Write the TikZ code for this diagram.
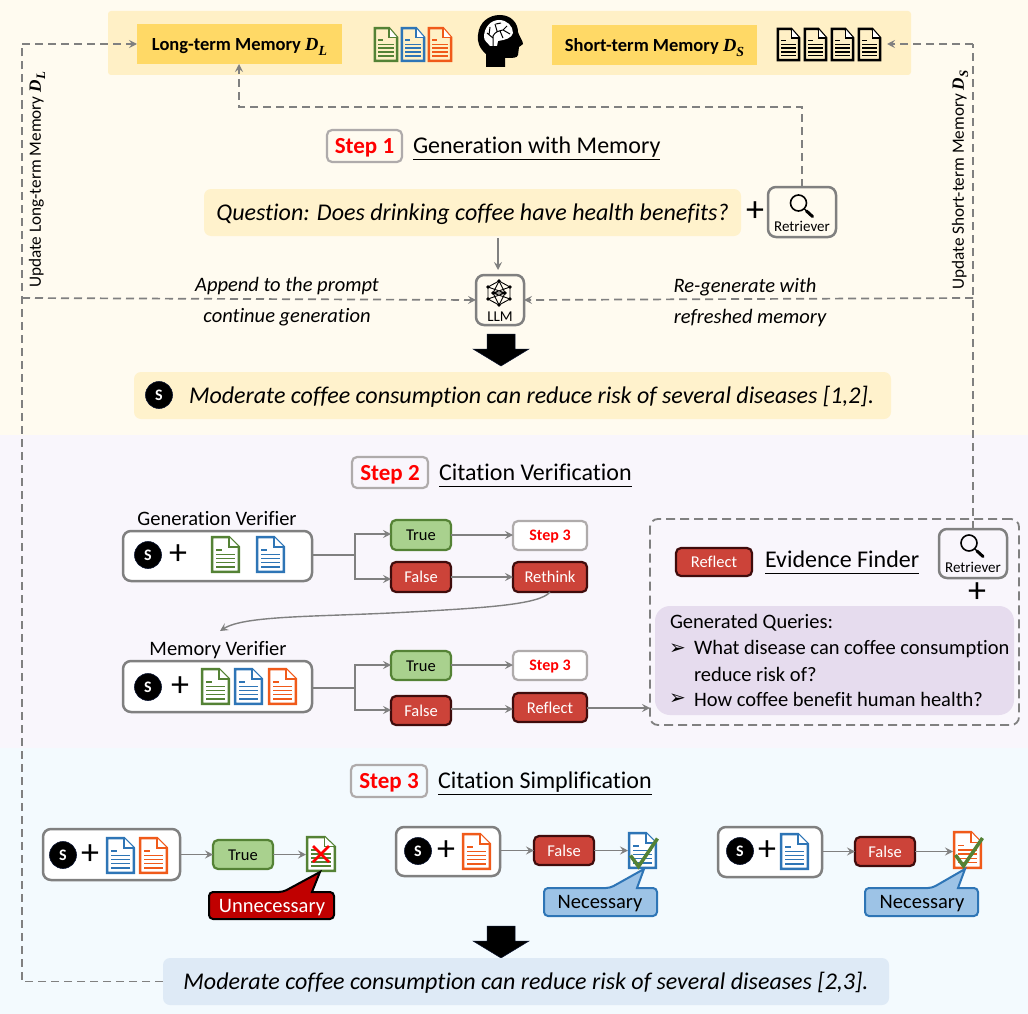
\documentclass[tikz,border=0pt]{standalone}
\usepackage{fontspec}
\setmainfont{Carlito}[Ligatures={NoCommon}]
\newfontfamily\mfam{Liberation Serif}
\newfontfamily\symf{DejaVu Sans}
\usetikzlibrary{arrows.meta,calc}
\definecolor{bgA}{HTML}{FFFBF0}
\definecolor{bgB}{HTML}{F9F6FC}
\definecolor{bgC}{HTML}{F3FAFE}
\definecolor{band}{HTML}{FFF0C6}
\definecolor{gold}{HTML}{FFD966}
\definecolor{pale}{HTML}{FFF2CC}
\definecolor{lav}{HTML}{E6DCEE}
\definecolor{ice}{HTML}{DEEAF6}
\definecolor{gr}{HTML}{808080}
\definecolor{dgreen}{HTML}{548235}
\definecolor{lgreen}{HTML}{A9D18E}
\definecolor{dblue}{HTML}{2E75B6}
\definecolor{lblue}{HTML}{9DC3E6}
\definecolor{dorange}{HTML}{F05A1A}
\definecolor{fred}{HTML}{CC4339}
\definecolor{dred}{HTML}{3F0C0C}
\definecolor{stepgr}{HTML}{AFABAB}
\definecolor{navy}{HTML}{0A1430}
\definecolor{cred}{HTML}{C00000}
\tikzset{
  base/.style={inner sep=0pt,outer sep=0pt,text=black},
  conn/.style={draw=gr,line width=1.7pt,-{Stealth[length=8pt,width=8pt,inset=3pt]}},
  plainconn/.style={draw=gr,line width=1.7pt},
  dashconn/.style={draw=gr,line width=1.7pt,dash pattern=on 8pt off 5pt,-{Stealth[length=8pt,width=8pt,inset=3pt]}},
  dashplain/.style={draw=gr,line width=1.7pt,dash pattern=on 8pt off 5pt},
  txt/.style={base,yshift=-2pt,font=\fontsize{#1}{#1}\selectfont},
  itx/.style={base,yshift=-2pt,font=\fontsize{#1}{#1}\selectfont\itshape},
  rtx/.style={base,rotate=90,font=\fontsize{#1}{#1}\selectfont},
  stepbox/.style={base,draw=stepgr,line width=2.2pt,rounded corners=5pt,text=red,text height=15pt,text depth=0pt,font=\fontsize{23}{23}\selectfont\bfseries},
  smallstep/.style={base,draw=stepgr,line width=2.2pt,rounded corners=5pt,fill=white,text=red,text height=10.5pt,text depth=0pt,font=\fontsize{16}{16}\selectfont\bfseries},
  truebox/.style={base,draw=dgreen,line width=2.2pt,rounded corners=5pt,fill=lgreen,text height=11pt,text depth=0pt,font=\fontsize{16.5}{16.5}\selectfont},
  falsebox/.style={base,draw=dred,line width=2.2pt,rounded corners=5pt,fill=fred,text=white,text height=11pt,text depth=0pt,font=\fontsize{16.5}{16.5}\selectfont},
  graybox/.style={base,draw=gr,line width=2.5pt,rounded corners=8pt,fill=white},
  openbox/.style={base,draw=gr,line width=2.5pt,rounded corners=8pt},
  headtext/.style={base,yshift=-3pt,font=\fontsize{24}{24}\selectfont,text height=15pt,text depth=6pt},
  sball/.style={base,circle,fill=black,draw=navy,line width=.6pt,minimum size=27pt,text=white,font=\fontsize{16}{16}\selectfont\bfseries},
  pluss/.style={base,font=\fontsize{36}{36}\selectfont},
  memhead/.style={base,fill=gold,text height=13pt,text depth=0pt,font=\fontsize{18.5}{18.5}\selectfont\bfseries},
  sentbox/.style={base,rounded corners=7pt,text height=15pt,text depth=0pt,font=\fontsize{24}{24}\selectfont\itshape},
}
\newcommand\dmath[2]{{\mfam\bfseries\itshape #1\raisebox{-.25em}{\scalebox{.75}{#2}}}}
\newcommand\bx[7]{%
  \pgfmathsetmacro\cxx{(#2+#4)/2}\pgfmathsetmacro\cyy{(#3+#5)/2}%
  \pgfmathsetmacro\www{#4-#2}\pgfmathsetmacro\hhh{#5-#3}%
  \node[#6,minimum width=\www pt,minimum height=\hhh pt] (#1) at (\cxx,\cyy) {#7};}
\newcommand\docicon[7]{%
  \pgfmathsetmacro\cxx{(#2+#4)/2}\pgfmathsetmacro\cyy{(#3+#5)/2}%
  \pgfmathsetmacro\www{#4-#2}\pgfmathsetmacro\hhh{#5-#3}%
  \node[inner sep=0pt,outer sep=0pt,minimum width=\www pt,minimum height=\hhh pt] (#1) at (\cxx,\cyy) {};
  \begin{scope}[shift={(#2,#3)},x=\www pt,y=-\hhh pt]
    \draw[#6,line width=2.5pt,fill=#7,line join=miter] (.04,.03)--(.62,.03)--(.96,.30)--(.96,.97)--(.04,.97)--cycle;
    \draw[#6,line width=1.3pt,fill=white] (.62,.03)--(.62,.30)--(.96,.30);
    \draw[#6,line width=1.7pt] (.18,.38)--(.38,.38) (.18,.50)--(.84,.50) (.18,.61)--(.84,.61) (.18,.72)--(.84,.72) (.18,.83)--(.84,.83);
  \end{scope}}
\newcommand\lens[2]{%
  \begin{scope}[shift={(#1,#2)}]
    \draw[black,line width=1.6pt] (0,0) circle (8pt);
    \draw[black,line width=1.2pt] (5.6,5.6)--(8,8);
    \draw[black,line width=3pt,line cap=round] (8,8)--(14,13.5);
  \end{scope}}
\begin{document}
\begin{tikzpicture}[x=1pt,y=-1pt]
\useasboundingbox (0,0) rectangle (1028,1014);
% section backgrounds
\fill[bgA] (0,0) rectangle (1028,435);
\fill[bgB] (0,435) rectangle (1028,748);
\fill[bgC] (0,748) rectangle (1028,1014);
% memory band
\fill[band,rounded corners=3pt] (108,11) rectangle (911,75);
\bx{ltm}{137}{24}{342}{64}{memhead}{Long-term Memory \dmath{D}{L}}
\bx{stm}{552}{25}{757}{65}{memhead}{Short-term Memory \dmath{D}{S}}
\docicon{da}{374}{27}{398}{62}{dgreen}{band}
\docicon{db}{401}{27}{425}{62}{dblue}{band}
\docicon{dc}{428}{27}{452}{62}{dorange}{band}
\docicon{ka}{777}{28}{800}{61}{black}{band}
\docicon{kb}{804}{28}{827}{61}{black}{band}
\docicon{kc}{831}{28}{854}{61}{black}{band}
\docicon{kd}{858}{28}{881}{61}{black}{band}
\coordinate (stmin) at (887,44);
% brain head
\fill[black] (486,67) -- (486,54) .. controls (479,48) and (477,41) .. (478,35)
  .. controls (479,22) and (489,15) .. (500,15) .. controls (511,15) and (518,23) .. (518,32)
  .. controls (519,36) and (523,41) .. (523,44) .. controls (522,46) and (519,46) .. (519,47)
  -- (518,55) .. controls (517,58) and (514,58) .. (505,58) -- (505,67) -- cycle;
\fill[white] (484,37) .. controls (484,27) and (491,20) .. (499,20) .. controls (507,20) and (513,26) .. (513,33)
  .. controls (512,38) and (505,40) .. (498,41) -- (497,46) -- (490,46) .. controls (488,43) and (484,41) .. (484,37) -- cycle;
\draw[black,line width=1pt] (493,46) -- (493,36) .. controls (495,32) and (498,31) .. (503,30) -- (507,26)
  (503,30) -- (510,34) (493,38) -- (487,33) (489,35) -- (490,27) (497,31) -- (495,24) (500,31) -- (503,38) (496,24)--(501,23);
% step 1
\bx{s1}{327}{130}{402}{162}{stepbox}{Step 1}
\node[headtext,anchor=west] (h1) at (413,146) {Generation with Memory};
\draw[black,line width=.8pt] (h1.south west)--(h1.south east);
\bx{q}{204}{189}{741}{236}{sentbox,fill=pale}{Question: Does drinking coffee have health benefits?}
\node[pluss] (qp) at (755,212) {+};
\bx{r1}{768}{187}{836}{237}{openbox}{}
\node[txt=15] (r1t) at (802,224) {Retriever};
\lens{798.5}{203}
\bx{llm}{476}{275}{524}{325}{openbox}{}
\node[txt=15] (llmt) at (500,315) {LLM};
\begin{scope}[shift={(499,293)},line width=.9pt]
  \foreach \p/\q in {0/-12,-11/-6,11/-6,-11/6,11/6,0/12,-6/0,6/0}{\fill[black] (\p,\q) circle (1.9pt);}
  \draw (0,-12)--(-11,-6)--(-11,6)--(0,12)--(11,6)--(11,-6)--cycle;
  \draw (0,-12)--(-6,0)--(0,12)--(6,0)--cycle (-11,-6)--(6,0)--(-11,6) (11,-6)--(-6,0)--(11,6) (-6,0)--(6,0);
\end{scope}
\coordinate (qb) at (498,238);
\coordinate (qe) at (498,270);
\draw[conn,line width=1.4pt] (qb) -- (qe);
% connectors
\coordinate (lc) at (22,298);
\coordinate (rc) at (973,298);
\coordinate (mid) at (802,107);
\coordinate (midl) at (239,107);
\draw[dashconn] (r1.north) -- (mid) -- (midl) -- (ltm.south -| midl);
\node[itx=20.5] (ap1) at (287,284) {Append to the prompt};
\node[itx=20.5] (ap2) at (287,315) {continue generation};
\node[itx=20.5] (re1) at (745,285) {Re-generate with};
\node[itx=20.5] (re2) at (750,316) {refreshed memory};
\node[rtx=17.2] (ul) at (37,180) {Update Long-term Memory \dmath{D}{L}};
\node[rtx=17.2] (us) at (960,180) {Update Short-term Memory \dmath{D}{S}};
% block arrow 1
\fill[black,draw=navy,line width=.5pt] (487,334)--(515,334)--(515,349)--(529,349)--(501,366)--(473,349)--(487,349)--cycle;
\bx{out1}{134}{372}{891}{419}{base,fill=pale,rounded corners=7pt}{}
\node[sball] (s0) at (159,395) {S};
\node[itx=24,anchor=west] (out1t) at (189,395) {Moderate coffee consumption can reduce risk of several diseases [1,2].};
% step 2
\bx{s2}{352}{457}{428}{488}{stepbox}{Step 2}
\node[headtext,anchor=west] (h2) at (439,473) {Citation Verification};
\draw[black,line width=.8pt] (h2.south west)--(h2.south east);
\node[txt=20.5] (gvl) at (217,517) {Generation Verifier};
\bx{gv}{123}{531}{312}{581}{graybox}{}
\node[sball] (s1b) at (148,555) {S};
\node[pluss] (p1) at (178,555) {+};
\docicon{g1}{211}{536}{240}{573}{dgreen}{white}
\docicon{g2}{256}{536}{285}{573}{dblue}{white}
\bx{t1}{391}{520}{451}{550}{truebox}{True}
\bx{f1}{391}{562}{451}{592}{falsebox}{False}
\bx{st1}{513}{521}{587}{550}{smallstep}{Step 3}
\bx{re}{513}{562}{587}{592}{falsebox}{Rethink}
\coordinate (j1) at (355,555);
\draw[plainconn] (gv.east |- j1) -- (j1);
\draw[conn] (j1) |- (t1.west |- 0,534);
\draw[conn] (j1) |- (f1.west |- 0,579);
\draw[conn] (t1.east |- 0,535) -- (st1.west |- 0,535);
\draw[conn] (f1.east |- 0,577) -- (re.west |- 0,577);
\coordinate (mvtop) at (220,631);
\coordinate (rethm) at (410,612);
\draw[conn,line width=1.4pt] (re.south) .. controls (540,605) and (480,608) .. (rethm) .. controls (320,617) and (245,615) .. (mvtop);
\node[txt=20.5] (mvl) at (218,648) {Memory Verifier};
\bx{mv}{123}{661}{312}{712}{graybox}{}
\node[sball] (s2b) at (148,687) {S};
\node[pluss] (p2) at (180,687) {+};
\docicon{m1}{201}{668}{230}{705}{dgreen}{white}
\docicon{m2}{234}{668}{263}{705}{dblue}{white}
\docicon{m3}{268}{668}{297}{705}{dorange}{white}
\bx{t2}{391}{651}{451}{680}{truebox}{True}
\bx{f2}{391}{696}{451}{725}{falsebox}{False}
\bx{st2}{513}{651}{587}{680}{smallstep}{Step 3}
\bx{rf}{513}{693}{587}{722}{falsebox}{Reflect}
\coordinate (j2) at (355,688);
\draw[plainconn] (mv.east |- j2) -- (j2);
\draw[conn] (j2) |- (t2.west |- 0,665);
\draw[conn] (j2) |- (f2.west |- 0,710);
\draw[conn] (t2.east |- 0,665) -- (st2.west |- 0,665);
\draw[conn] (f2.east |- 0,709) -- (rf.west |- 0,709);
% evidence finder
\bx{ev}{650}{519}{1019}{725}{base,draw=gr,line width=1.8pt,dash pattern=on 9pt off 5pt,rounded corners=8pt}{}
\draw[conn] (rf.east |- 0,708) -- (ev.west |- 0,708);
\bx{rf2}{676}{548}{752}{576}{falsebox}{Reflect}
\node[headtext,anchor=west] (h4) at (765,560) {Evidence Finder};
\draw[black,line width=.8pt] (h4.south west)--(h4.south east);
\bx{r2}{939}{529}{1007}{578}{openbox}{}
\node[txt=15] (r2t) at (973,565) {Retriever};
\lens{969}{543}
\node[pluss] (p3) at (977,593) {+};
\bx{gq}{655}{606}{1014}{715}{base,fill=lav,rounded corners=15pt}{}
\node[txt=20.5,anchor=west] (gq0) at (670,621) {Generated Queries:};
\node[txt=20,anchor=west] (gb1) at (669,647) {\symf ➢};
\node[txt=20.5,anchor=west] (gq1) at (694,647) {What disease can coffee consumption};
\node[txt=20.5,anchor=west] (gq2) at (694,672) {reduce risk of?};
\node[txt=20,anchor=west] (gb2) at (669,697) {\symf ➢};
\node[txt=20.5,anchor=west] (gq3) at (694,697) {How coffee benefit human health?};
% long dashed runs
\coordinate (cl) at (22,44);
\coordinate (cr) at (973,44);
\draw[dashplain] (r2.north) -- (cr);
\draw[dashconn] (cr) -- (stmin);
\draw[dashconn] (rc) -- (llm.east);
% step 3
\bx{s3}{351}{765}{427}{797}{stepbox}{Step 3}
\node[headtext,anchor=west] (h3) at (438,781) {Citation Simplification};
\draw[black,line width=.8pt] (h3.south west)--(h3.south east);
% case 1
\bx{c1}{43}{829}{180}{880}{graybox}{}
\node[sball] (s3a) at (63,855) {S};
\node[pluss] (p4) at (90,855) {+};
\docicon{c1a}{106}{837}{135}{874}{dblue}{white}
\docicon{c1b}{139}{837}{168}{874}{dorange}{white}
\bx{t3}{213}{840}{273}{869}{truebox}{True}
\docicon{c1c}{306}{836}{336}{872}{dgreen}{white}
\draw[red,line width=2.6pt] (c1c.center)++(-8,-8)--++(16,16) (c1c.center)++(8,-8)--++(-16,16);
\draw[conn] (c1.east |- t3) -- (t3.west);
\draw[conn] (t3.east) -- (c1c.west |- t3);
\draw[draw=black,line width=2pt,fill=cred,rounded corners=4pt] (209,892) -- (283,892) [sharp corners] -- (320,872) [sharp corners] -- (312,892) [rounded corners=4pt] -- (334,892) -- (334,919) -- (209,919) -- cycle;
\node[txt=20.5,text=white] (un) at (272,906) {Unnecessary};
% case 2
\bx{c2}{396}{827}{500}{876}{graybox}{}
\node[sball] (s3b) at (418,851) {S};
\node[pluss] (p5) at (446,851) {+};
\docicon{c2a}{462}{833}{491}{870}{dorange}{white}
\bx{f3}{534}{836}{594}{865}{falsebox}{False}
\docicon{c2b}{628}{832}{657}{869}{dblue}{white}
\draw[dgreen,line width=3.5pt] (c2b.center)++(-12,5)--++(8,11)--++(19,-28);
\draw[conn] (c2.east |- f3) -- (f3.west);
\draw[conn] (f3.east) -- (c2b.west |- f3);
\draw[draw=dblue,line width=2pt,fill=lblue,rounded corners=4pt] (544,888) -- (610,888) [sharp corners] -- (644,869) [sharp corners] -- (637,888) [rounded corners=4pt] -- (657,888) -- (657,916) -- (544,916) -- cycle;
\node[txt=20.5] (ne1) at (600,902) {Necessary};
% case 3
\bx{c3}{718}{827}{822}{877}{graybox}{}
\node[sball] (s3c) at (740,851) {S};
\node[pluss] (p6) at (767,851) {+};
\docicon{c3a}{780}{833}{809}{870}{dblue}{white}
\bx{f4}{855}{837}{915}{866}{falsebox}{False}
\docicon{c3b}{953}{831}{982}{869}{dorange}{white}
\draw[dgreen,line width=3.5pt] (c3b.center)++(-12,5)--++(8,11)--++(19,-28);
\draw[conn] (c3.east |- f4) -- (f4.west);
\draw[conn] (f4.east) -- (c3b.west |- f4);
\draw[draw=dblue,line width=2pt,fill=lblue,rounded corners=4pt] (865,888) -- (932,888) [sharp corners] -- (965,869) [sharp corners] -- (958,888) [rounded corners=4pt] -- (978,888) -- (978,916) -- (865,916) -- cycle;
\node[txt=20.5] (ne2) at (922,902) {Necessary};
% block arrow 2
\fill[black,draw=navy,line width=.5pt] (487,926)--(515,926)--(515,941)--(529,941)--(501,958)--(473,941)--(487,941)--cycle;
\bx{out2}{163}{958}{889}{1005}{sentbox,fill=ice}{Moderate coffee consumption can reduce risk of several diseases [2,3].}
\draw[dashplain] (out2.west) -- (out2.west -| cl) -- (cl);
\draw[dashconn] (cl) -- (ltm.west);
\draw[dashconn] (lc) -- (llm.west);
\end{tikzpicture}
\end{document}
